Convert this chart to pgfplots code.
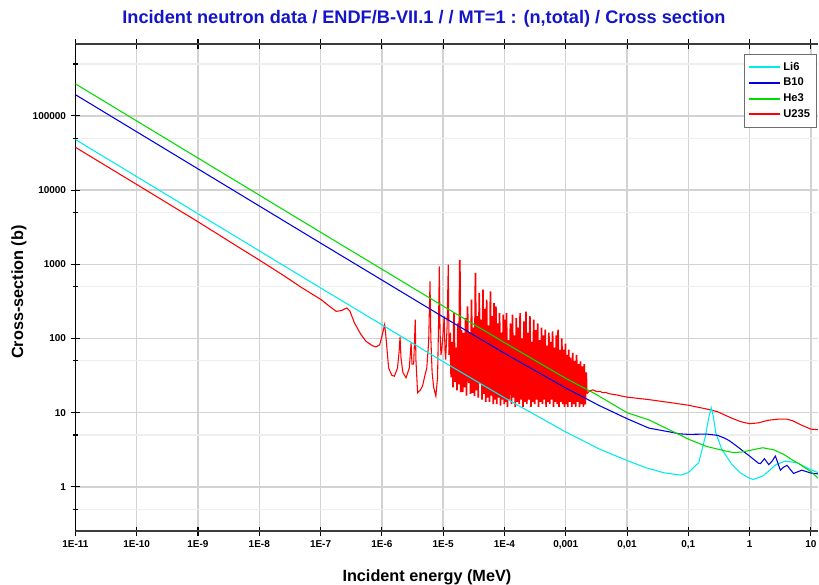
\documentclass[border=0pt]{standalone}
\usepackage{fontspec}
\setmainfont{Liberation Sans}
\usepackage{pgfplots}
\pgfplotsset{compat=1.18}
\definecolor{ctitle}{RGB}{20,20,200}
\definecolor{cli}{RGB}{0,235,235}
\definecolor{cb}{RGB}{0,0,225}
\definecolor{che}{RGB}{0,220,0}
\definecolor{cu}{RGB}{255,0,0}
\definecolor{gmaj}{RGB}{210,210,210}
\definecolor{gmin}{RGB}{238,238,238}
\definecolor{spine}{RGB}{60,60,60}
\begin{document}
\begin{tikzpicture}
\begin{axis}[
  at={(0pt,0pt)}, anchor=south west,
  scale only axis, width=557.625pt, height=366pt,
  xmode=log, ymode=log,
  xmin=1e-11, xmax=13.0, ymin=0.252, ymax=9.31e5,
  axis x line=box, axis y line=left,
  xtick pos=both, ytick pos=left,
  xtick={1e-11,1e-10,1e-9,1e-8,1e-7,1e-6,1e-5,1e-4,1e-3,1e-2,1e-1,1,10},
  xticklabels={1E-11,1E-10,1E-9,1E-8,1E-7,1E-6,1E-5,1E-4,{0,001},{0,01},{0,1},1,10},
  ytick={1,10,100,1000,10000,100000},
  yticklabels={1,10,100,1000,10000,100000},
  minor ytick={0.5,5,50,500,5000,50000,500000},
  xminorticks=false,
  xmajorgrids=true, ymajorgrids=true, yminorgrids=true,
  major grid style={gmaj, line width=1.1pt},
  minor grid style={gmin, line width=0.9pt},
  tick align=center,
  major tick length=7pt, minor tick length=4pt,
  every tick/.style={black, line width=0.8pt},
  separate axis lines,
  x axis line style={-, spine, line width=1.6pt},
  y axis line style={-, black, line width=1pt},
  ticklabel style={font=\bfseries\fontsize{7.5}{9}\selectfont},
  xticklabel style={inner xsep=0pt},
  xlabel={Incident energy (MeV)},
  ylabel={Cross-section (b)},
  xlabel style={at={(axis description cs:0.4734,-0.0935)}, anchor=center, inner sep=0pt, font=\bfseries\fontsize{12.2}{14}\selectfont},
  ylabel style={at={(axis description cs:-0.0760,0.4908)}, anchor=center, inner sep=0pt, font=\bfseries\fontsize{12.2}{14}\selectfont},
  every axis title shift=0pt,
  title={Incident neutron data / ENDF/B-VII.1 / / MT=1 : (n,total) / Cross section},
  title style={at={(axis description cs:0.4694,1.0512)}, anchor=center, inner sep=0pt, font=\bfseries\fontsize{13.65}{16}\selectfont, text=ctitle},
  legend style={at={(axis description cs:0.999,0.9795)}, anchor=north east, draw={rgb,255:red,110;green,110;blue,110}, line width=0.6pt, fill=white, font=\bfseries\fontsize{8.4}{10}\selectfont, row sep=0.3pt, inner ysep=4pt},
  legend cell align=left,
  legend image code/.code={\draw[#1, line width=1.5pt] (0pt,0pt) -- (23pt,0pt);},
  every axis plot/.append style={line width=0.8pt},
]
% U235, thermal and resolved-resonance part (drawn first, so the other curves lie on top)
\addplot[color=cu, forget plot] coordinates {
(1e-11,37700)(1e-10,11900)(1e-9,3740)(4.8e-9,1660)(1e-8,1140)(2.53e-8,700)(5e-8,480)
(1.02e-7,334)(1.4e-7,271)(1.8e-7,232)(2.2e-7,238)(2.67e-7,258)(3.0e-7,235)(3.57e-7,162)
(4.5e-7,115)(5.5e-7,91.6)(7e-7,80)(8.05e-7,77)(9.2e-7,82)(1.0e-6,107)(1.07e-6,135)(1.11e-6,154)
(1.16e-6,110)(1.24e-6,57.6)(1.29e-6,40)(1.45e-6,32)(1.6e-6,31)(1.8e-6,40)(1.92e-6,70)(1.98e-6,105)
(2.05e-6,55)(2.2e-6,35)(2.48e-6,29.5)(2.8e-6,40)(3.0e-6,87)(3.1e-6,45)(3.3e-6,45)(3.42e-6,100)
(3.5e-6,180)(3.6e-6,50)(3.83e-6,18.5)(4.2e-6,20)(4.6e-6,22.7)(5.0e-6,31)(5.4e-6,40)(5.8e-6,90)
(6.1e-6,590)(6.3e-6,100)(6.6e-6,35)(7.0e-6,22)(7.6e-6,16.7)(8.1e-6,30)(8.4e-6,150)(8.65e-6,937)
(8.9e-6,120)(9.2e-6,60)(9.5e-6,71)(1.0e-5,120)(1.04e-5,199)(1.07e-5,70)(1.1e-5,52)(1.16e-5,150)
(1.21e-5,988)(1.25e-5,60)
};
% U235, dense resonance band
\addplot[color=cu, forget plot, line width=1.25pt] coordinates {
(1.25e-5,60)
(1.30e-5,120)(1.35e-5,30)(1.40e-5,90)(1.45e-5,22)(1.50e-5,220)(1.56e-5,26)(1.62e-5,75)(1.68e-5,20)
(1.74e-5,160)(1.80e-5,24)(1.87e-5,1150)(1.94e-5,19)(2.00e-5,130)(2.08e-5,19)(2.16e-5,119)(2.24e-5,22)
(2.32e-5,190)(2.40e-5,17)(2.50e-5,271)(2.60e-5,25)(2.70e-5,120)(2.80e-5,18)(2.90e-5,333)(3.00e-5,18.5)
(3.12e-5,140)(3.24e-5,16.7)(3.36e-5,763)(3.48e-5,20)(3.60e-5,200)(3.74e-5,16)(3.88e-5,410)(4.02e-5,25)
(4.16e-5,180)(4.30e-5,15)(4.46e-5,454)(4.62e-5,18)(4.78e-5,250)(4.95e-5,14)(5.12e-5,333)(5.30e-5,16)
(5.50e-5,150)(5.70e-5,14)(5.90e-5,430)(6.10e-5,17)(6.32e-5,200)(6.54e-5,13)(6.76e-5,300)(7.00e-5,15)
(7.25e-5,271)(7.50e-5,13)(7.76e-5,160)(8.04e-5,16)(8.32e-5,220)(8.62e-5,12.5)(8.92e-5,120)(9.24e-5,15)
(9.56e-5,210)(9.90e-5,13)
(1.00e-4,180)(1.04e-4,14)(1.08e-4,220)(1.12e-4,12)(1.16e-4,95)(1.20e-4,15)(1.25e-4,160)(1.30e-4,13)
(1.35e-4,210)(1.40e-4,16)(1.45e-4,110)(1.50e-4,12)(1.56e-4,190)(1.62e-4,14)(1.68e-4,140)(1.74e-4,13)
(1.80e-4,220)(1.87e-4,15)(1.94e-4,100)(2.00e-4,12)(2.08e-4,170)(2.16e-4,14)(2.24e-4,230)(2.32e-4,13)
(2.40e-4,120)(2.50e-4,15)(2.60e-4,200)(2.70e-4,12)(2.80e-4,90)(2.90e-4,14)(3.00e-4,180)(3.12e-4,13)
(3.24e-4,130)(3.36e-4,15)(3.48e-4,160)(3.60e-4,12)(3.74e-4,95)(3.88e-4,14)(4.02e-4,140)(4.16e-4,13)
(4.30e-4,110)(4.46e-4,15)(4.62e-4,132)(4.78e-4,12)(4.95e-4,80)(5.12e-4,14)(5.30e-4,120)(5.50e-4,13)
(5.70e-4,90)(5.90e-4,15)(6.10e-4,125)(6.32e-4,12)(6.54e-4,75)(6.76e-4,14)(7.00e-4,110)(7.25e-4,13)
(7.50e-4,132)(7.76e-4,12)(8.04e-4,70)(8.32e-4,14)(8.62e-4,100)(8.92e-4,13)(9.24e-4,71)(9.56e-4,12)
(9.90e-4,85)
(1.00e-3,13)(1.04e-3,60)(1.08e-3,12)(1.12e-3,71)(1.16e-3,14)(1.20e-3,55)(1.25e-3,12)(1.30e-3,64)
(1.35e-3,13)(1.40e-3,50)(1.45e-3,12)(1.50e-3,60)(1.56e-3,14)(1.62e-3,45)(1.68e-3,12)(1.74e-3,49)
(1.80e-3,13)(1.87e-3,42)(1.94e-3,12)(2.00e-3,45)(2.08e-3,13)(2.16e-3,35)(2.20e-3,18)
};
% U235, unresolved and fast part
\addplot[color=cu, forget plot] coordinates {
(2.20e-3,18)
(2.5e-3,19.8)(2.8e-3,20.3)(3.2e-3,19.2)(3.6e-3,19.4)(4.0e-3,18.6)(4.5e-3,18.8)(5.0e-3,18.1)
(6e-3,17.6)(7e-3,17.3)(8e-3,16.8)(1e-2,16.2)(2.27e-2,15.0)(5e-2,13.7)(0.1,12.6)(0.2,11.2)
(0.3,10.3)(0.5,8.5)(0.7,7.6)(1.0,7.1)(1.4,7.3)(2.0,7.9)(3.0,8.2)(4.0,8.2)(5.0,7.8)(7.0,6.8)
(10,6.0)(13,5.9)
};
% Li6
\addplot[color=cli] coordinates {
(1e-11,48000)(1e-9,4800)(1e-7,480)(1e-5,48.7)(1e-4,15.9)(1e-3,5.5)(3.5e-3,3.25)(1e-2,2.27)
(2e-2,1.82)(4e-2,1.55)(7.5e-2,1.44)(0.1,1.56)(0.148,2.13)(0.19,4.86)(0.215,8.5)(0.236,11.7)
(0.255,9.0)(0.28,5.4)(0.35,3.22)(0.51,2.02)(0.7,1.55)(0.96,1.33)(1.14,1.26)(1.64,1.4)(2.7,2.0)
(3.8,2.22)(5.9,2.12)(9.7,1.72)(13,1.56)
};
\addlegendentry{Li6}
% B10
\addplot[color=cb] coordinates {
(1e-11,193000)(1e-9,19300)(1e-7,1930)(1e-5,195)(1e-4,63.2)(1e-3,21.5)(3.5e-3,12.5)(1e-2,8.3)
(2.27e-2,6.2)(5e-2,5.5)(7e-2,5.2)(0.1,5.1)(0.2,5.15)(0.3,4.95)(0.4,4.5)(0.47,4.17)(0.6,3.6)
(0.75,3.12)(1.0,2.6)(1.2,2.3)(1.4,2.08)(1.5,2.06)(1.74,2.4)(2.05,2.0)(2.3,2.2)(2.63,2.6)
(3.17,1.68)(3.6,1.85)(4.06,1.95)(5.2,1.52)(7.1,1.68)(10.4,1.52)(13,1.5)
};
\addlegendentry{B10}
% He3
\addplot[color=che] coordinates {
(1e-11,270000)(1e-9,27000)(1e-7,2703)(1e-5,273)(1e-4,88)(1e-3,29)(3e-3,18)(1e-2,10.0)
(2.27e-2,8.0)(7e-2,5.1)(0.1,4.4)(0.2,3.5)(0.4,3.05)(0.55,2.9)(0.75,2.95)(1.0,3.1)(1.64,3.37)
(2.5,3.15)(3.6,2.74)(5,2.3)(6.7,2.0)(10,1.6)(13,1.32)
};
\addlegendentry{He3}
\addlegendimage{color=cu}
\addlegendentry{U235}
\end{axis}
\path (-56.625pt,-39.75pt) rectangle (557.625pt,399pt);
\end{tikzpicture}
\end{document}
